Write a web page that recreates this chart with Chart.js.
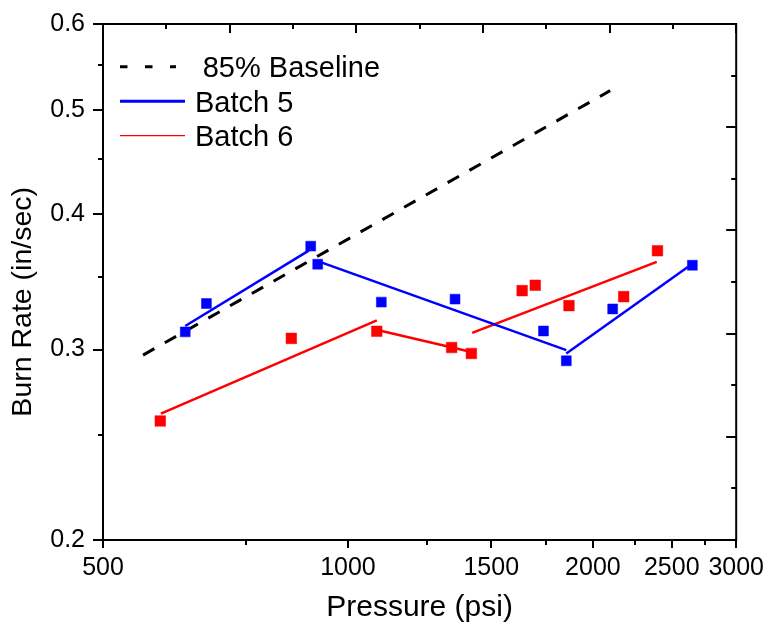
<!DOCTYPE html>
<html>
<head>
<meta charset="utf-8">
<script src="https://cdn.jsdelivr.net/npm/chart.js@4.4.0/dist/chart.umd.min.js"></script>
<style>
  html, body { margin: 0; padding: 0; background: #fff; }
  #c { display: block; }
</style>
</head>
<body>
<canvas id="c" width="769" height="629"></canvas>
<script>
// ---- data ----
const baselinePressure = [560, 2100];
const baselineRate = [0.2965, 0.5206];

const batch5Pressure = [631, 670, 900, 918, 1099, 1354, 1739, 1855, 2115, 2650];
const batch5Rate = [0.3115, 0.3309, 0.3739, 0.3598, 0.3319, 0.3340, 0.3121, 0.2929, 0.3271, 0.3590];

const batch6Pressure = [588, 852, 1085, 1341, 1418, 1637, 1699, 1869, 2182, 2401];
const batch6Rate = [0.2577, 0.3072, 0.3119, 0.3013, 0.2975, 0.3401, 0.3440, 0.3294, 0.3358, 0.3702];

// piecewise fit segments: [start, end]
const batch5FitPressure = [[631, 895], [918, 1855], [1855, 2645]];
const batch5FitRate = [[0.3154, 0.3703], [0.3621, 0.2996], [0.2975, 0.3598]];
const batch6FitPressure = [[589, 1085], [1090, 1418], [1421, 2396]];
const batch6FitRate = [[0.2618, 0.3193], [0.3126, 0.2985], [0.3108, 0.3616]];

// ticks
const xTickValues = [500, 750, 1000, 1250, 1500, 1750, 2000, 2250, 2500, 2750, 3000];
const xLabelValues = [500, 1000, 1500, 2000, 2500, 3000];
const yTickValues = [0.2, 0.25, 0.3, 0.35, 0.4, 0.45, 0.5, 0.55, 0.6];
const yLabelValues = [0.2, 0.3, 0.4, 0.5, 0.6];
const mirrorTickSteps = [0, 1, 2, 3, 4, 5, 6, 7, 8, 9, 10];

const seriesLabels = ['85% Baseline', 'Batch 5', 'Batch 6'];

// ---- build datasets ----
const FONT = "'Liberation Sans', Arial, Helvetica, sans-serif";
const BLUE = '#0000FF', RED = '#FF0000', BLACK = '#000000';

function pts(xs, ys) { return xs.map((x, i) => ({ x: x, y: ys[i] })); }

const datasets = [];
datasets.push({
  label: seriesLabels[1] + ' data', data: pts(batch5Pressure, batch5Rate),
  pointStyle: 'rect', pointRadius: 7, pointHoverRadius: 7,
  backgroundColor: BLUE, borderColor: BLUE, borderWidth: 0.5, showLine: false, order: 0
});
datasets.push({
  label: seriesLabels[2] + ' data', data: pts(batch6Pressure, batch6Rate),
  pointStyle: 'rect', pointRadius: 7.5, pointHoverRadius: 7.5,
  backgroundColor: RED, borderColor: RED, borderWidth: 0.5, showLine: false, order: 0
});
datasets.push({
  label: seriesLabels[0], data: pts(baselinePressure, baselineRate),
  showLine: true, borderColor: BLACK, borderWidth: 3, borderDash: [13, 12],
  pointRadius: 0, order: 2, legendStyle: { color: BLACK, width: 3, dash: [7.5, 17.5], len: 56, indent: 7.7 }
});
batch5FitPressure.forEach((seg, i) => {
  datasets.push({
    label: seriesLabels[1], data: pts(seg, batch5FitRate[i]),
    showLine: true, borderColor: BLUE, borderWidth: 2.5, pointRadius: 0, order: 1,
    legendStyle: i === 0 ? { color: BLUE, width: 3, dash: [], len: 65, indent: 0 } : null
  });
});
batch6FitPressure.forEach((seg, i) => {
  datasets.push({
    label: seriesLabels[2], data: pts(seg, batch6FitRate[i]),
    showLine: true, borderColor: RED, borderWidth: 2.5, pointRadius: 0, order: 1,
    legendStyle: i === 0 ? { color: RED, width: 1.2, dash: [], len: 65, indent: 0 } : null
  });
});

// ---- plugins: frame, tick marks, legend ----
const frameTicks = {
  id: 'frameTicks',
  afterDatasetsDraw(chart) {
    const { ctx, chartArea: a, scales } = chart;
    ctx.save();
    ctx.strokeStyle = BLACK;
    ctx.lineWidth = 2;
    ctx.lineCap = 'butt';
    ctx.beginPath();
    xTickValues.forEach(v => {
      const px = Math.round(scales.x.getPixelForValue(v));
      const len = xLabelValues.includes(v) ? 8 : 5;
      ctx.moveTo(px, a.bottom); ctx.lineTo(px, a.bottom + len);
    });
    yTickValues.forEach(v => {
      const py = Math.round(scales.y.getPixelForValue(v));
      const len = yLabelValues.includes(v) ? 10 : 5;
      ctx.moveTo(a.left - len, py); ctx.lineTo(a.left, py);
    });
    mirrorTickSteps.forEach(i => {
      const px = Math.round(scales.x2.getPixelForValue(i));
      const len = i % 2 === 0 ? 9 : 5;
      ctx.moveTo(px, a.top); ctx.lineTo(px, a.top + len);
    });
    mirrorTickSteps.forEach(i => {
      const py = Math.round(scales.y2.getPixelForValue(i));
      const len = i % 2 === 0 ? 10 : 5;
      ctx.moveTo(a.right - len, py); ctx.lineTo(a.right, py);
    });
    ctx.stroke();
    ctx.strokeRect(a.left, a.top, a.right - a.left, a.bottom - a.top);
    ctx.restore();
  }
};

const insideLegend = {
  id: 'insideLegend',
  afterDraw(chart) {
    const { ctx, chartArea: a } = chart;
    const items = chart.data.datasets.filter(d => d.legendStyle);
    ctx.save();
    ctx.font = '29px ' + FONT;
    ctx.fillStyle = BLACK;
    ctx.textAlign = 'left';
    ctx.textBaseline = 'alphabetic';
    items.forEach((d, i) => {
      const s = d.legendStyle;
      const y = a.top + 42.7 + i * 34.5;
      const x0 = a.left + 17;
      ctx.beginPath();
      ctx.strokeStyle = s.color;
      ctx.lineWidth = s.width;
      ctx.setLineDash(s.dash);
      ctx.moveTo(x0, y); ctx.lineTo(x0 + s.len, y);
      ctx.stroke();
      ctx.setLineDash([]);
      ctx.fillText(d.label, a.left + 92 + s.indent, y + 10.4);
    });
    ctx.restore();
  }
};

Chart.defaults.color = BLACK;
Chart.defaults.font.family = FONT;

new Chart(document.getElementById('c'), {
  type: 'scatter',
  data: { datasets: datasets },
  plugins: [frameTicks, insideLegend],
  options: {
    responsive: false,
    animation: false,
    devicePixelRatio: 1,
    layout: { padding: { left: 0, top: 24, right: 30, bottom: 0 } },
    plugins: { legend: { display: false }, tooltip: { enabled: false } },
    scales: {
      x: {
        type: 'logarithmic', position: 'bottom', min: 500, max: 3000, bounds: 'data',
        afterBuildTicks: s => { s.ticks = xTickValues.map(v => ({ value: v })); },
        afterFit: s => { s.height = 89; },
        ticks: {
          autoSkip: false, maxRotation: 0, minRotation: 0, padding: 5,
          font: { size: 25 }, color: BLACK,
          callback: v => xLabelValues.includes(v) ? String(v) : ''
        },
        grid: { display: true, drawOnChartArea: false, drawTicks: true, tickLength: 8, tickColor: 'rgba(0,0,0,0)' },
        border: { display: false },
        title: { display: true, text: 'Pressure (psi)', font: { size: 30 }, color: BLACK, padding: { top: 0, bottom: 3 } }
      },
      y: {
        type: 'logarithmic', position: 'left', min: 0.2, max: 0.6, bounds: 'data',
        afterBuildTicks: s => { s.ticks = yTickValues.map(v => ({ value: v })); },
        afterFit: s => { s.width = 103; },
        ticks: {
          autoSkip: false, padding: 8, font: { size: 25 }, color: BLACK,
          callback: v => yLabelValues.includes(v) ? v.toFixed(1) : ''
        },
        grid: { display: true, drawOnChartArea: false, drawTicks: true, tickLength: 10, tickColor: 'rgba(0,0,0,0)' },
        border: { display: false },
        title: { display: true, text: 'Burn Rate (in/sec)     ', font: { size: 28.5 }, color: BLACK, padding: { top: 6.1, bottom: 0 } }
      },
      x2: {
        type: 'linear', position: 'top', min: 0, max: 10,
        afterFit: s => { s.height = 0; },
        ticks: { display: false, stepSize: 1 },
        grid: { display: false }, border: { display: false }
      },
      y2: {
        type: 'linear', position: 'right', min: 0, max: 10, reverse: true,
        afterFit: s => { s.width = 0; },
        ticks: { display: false, stepSize: 1 },
        grid: { display: false }, border: { display: false }
      }
    }
  }
});
</script>
</body>
</html>
